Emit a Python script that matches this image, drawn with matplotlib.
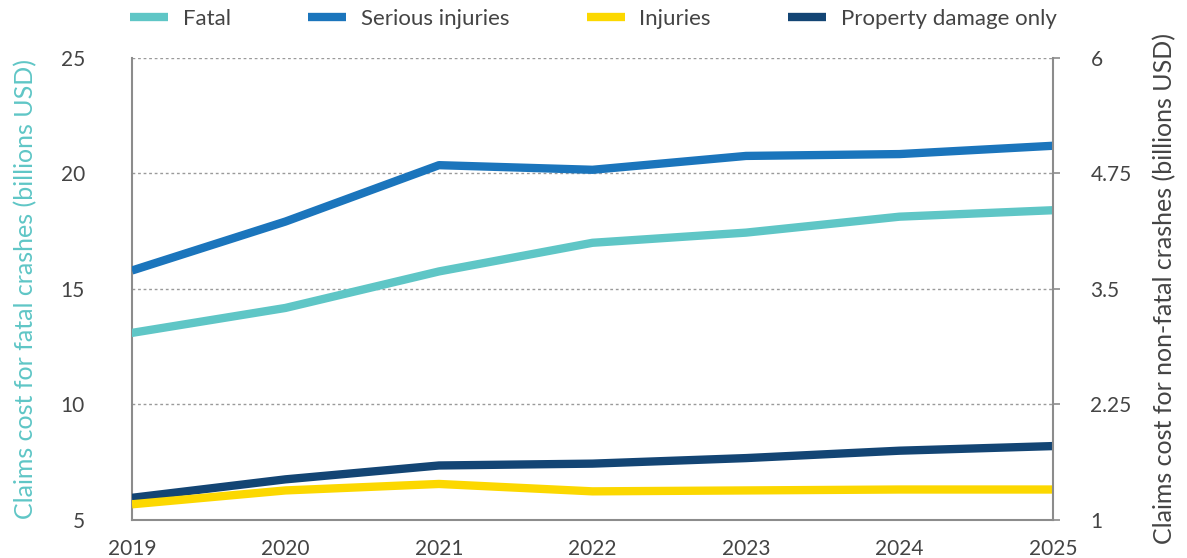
import matplotlib
matplotlib.use('Agg')
import matplotlib.pyplot as plt
from matplotlib.lines import Line2D

years = [2019, 2020, 2021, 2022, 2023, 2024, 2025]

# fatal crashes on the left axis, the rest on the right one
fatal = [13.1, 14.18, 15.76, 17.0, 17.44, 18.13, 18.41]
serious = [3.70, 4.23, 4.84, 4.79, 4.94, 4.96, 5.05]
injuries = [1.17, 1.32, 1.39, 1.31, 1.32, 1.33, 1.33]
property_only = [1.24, 1.44, 1.59, 1.61, 1.67, 1.75, 1.80]

left_ticks = [5, 10, 15, 20, 25]
right_ticks = [1, 2.25, 3.5, 4.75, 6]
right_tick_labels = ['1', '2.25', '3.5', '4.75', '6']

names = ['Fatal', 'Serious injuries', 'Injuries', 'Property damage only']
colors = ['#5fc6c6', '#1b75bc', '#fcd800', '#134574']

plt.rcParams['font.family'] = ['Lato', 'DejaVu Sans']
text_col = '#444444'
spine_col = '#8c8c8c'

fig = plt.figure(figsize=(11.87, 5.58), dpi=100)
ax = fig.add_axes([0.1112, 0.0681, 0.7759, 0.828])
ax2 = ax.twinx()

ax.plot(years, fatal, color=colors[0], lw=6, solid_capstyle='round', zorder=3)
ax2.plot(years, serious, color=colors[1], lw=6, solid_capstyle='butt')
ax2.plot(years, property_only, color=colors[3], lw=6, solid_capstyle='butt')
ax2.plot(years, injuries, color=colors[2], lw=6, solid_capstyle='butt')

ax.set_xlim(2019, 2025)
ax.set_ylim(5, 25)
ax2.set_ylim(1, 6)
ax.set_xticks(years)
ax.set_yticks(left_ticks)
ax2.set_yticks(right_ticks)
ax2.set_yticklabels(right_tick_labels)

ax.grid(axis='y', linestyle=(0, (2, 2)), color='#9a9a9a', lw=1)
ax.set_axisbelow(True)

for a in (ax, ax2):
    a.spines['top'].set_visible(False)
    for s in ('left', 'right', 'bottom'):
        a.spines[s].set_color(spine_col)
        a.spines[s].set_linewidth(1.5)
ax2.spines['bottom'].set_visible(False)
ax2.spines['left'].set_visible(False)
ax.spines['right'].set_visible(False)

ax.tick_params(axis='x', length=0, pad=14, labelsize=15, labelcolor=text_col)
ax.tick_params(axis='y', length=0, pad=34, labelsize=15, labelcolor=text_col)
ax2.tick_params(axis='y', length=5, width=1.2, color=spine_col, pad=22,
                labelsize=15, labelcolor=text_col)

ax.set_ylabel('Claims cost for fatal crashes (billions USD)', color=colors[0],
              fontsize=18, labelpad=17)
ax2.set_ylabel('Claims cost for non-fatal crashes (billions USD)', color=text_col,
               fontsize=18, labelpad=15)

handles = [Line2D([0], [0], color=c, lw=6, solid_capstyle='butt') for c in colors]
leg = fig.legend(handles, names, loc='center left', bbox_to_anchor=(0.093, 0.966),
                 ncol=4, frameon=False, fontsize=16, handlelength=1.7,
                 handletextpad=0.65, columnspacing=3.5)
for t in leg.get_texts():
    t.set_color(text_col)

fig.savefig('out.png', dpi=100)
